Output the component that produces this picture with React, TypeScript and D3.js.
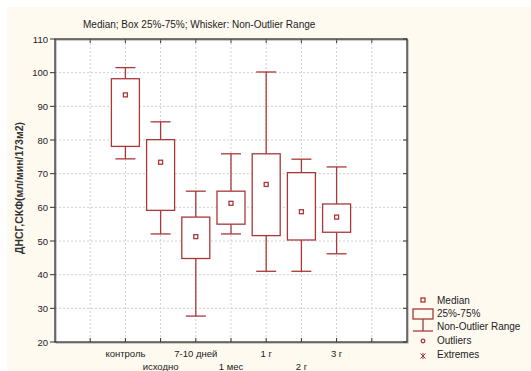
import React from "react";
import * as d3 from "d3";

// categories and box stats
const categories = ["контроль", "исходно", "7-10 дней", "1 мес", "1 г", "2 г", "3 г"];
const whiskerHigh = [101.5, 85.4, 64.8, 75.9, 100.2, 74.3, 72.0];
const q3 = [98.2, 80.1, 57.1, 64.8, 75.9, 70.3, 61.0];
const medians = [93.4, 73.4, 51.3, 61.2, 66.8, 58.7, 57.1];
const q1 = [78.1, 59.1, 44.8, 55.0, 51.6, 50.3, 52.6];
const whiskerLow = [74.4, 52.1, 27.7, 52.1, 41.0, 41.0, 46.2];
const yTickValues = [20, 30, 40, 50, 60, 70, 80, 90, 100, 110];
const legendLabels = ["Median", "25%-75%", "Non-Outlier Range", "Outliers", "Extremes"];

const RED = "#a93838";
const FONT = "'Liberation Sans', Arial, sans-serif";

export default function App() {
  const width = 531, height = 371;
  const left = 55, right = 407, top = 39, bottom = 342;

  // x positions: 0..10 across plot, categories sit at 2..8
  const x = d3.scaleLinear().domain([0, 10]).range([left, right]);
  const y = d3.scaleLinear().domain([20, 110]).range([bottom, top]);

  const boxW = 28, capW = 20;
  const vGrid = d3.range(1, 10);

  return (
    <svg width={width} height={height} style={{ position: "absolute", left: 0, top: 0 }} fontFamily={FONT}>
      <rect x={0} y={0} width={width} height={height} fill="#ffffff" />
      <rect x={7} y={7} width={width - 7} height={height - 7} fill="#fefaf0" />
      <rect x={left} y={top} width={right - left} height={bottom - top} fill="#ffffff" />

      {/* grid */}
      {yTickValues.slice(1, -1).map(v => (
        <line key={"h" + v} x1={left} x2={right} y1={y(v)} y2={y(v)} stroke="#c4c4c4" strokeWidth={0.8} strokeDasharray="2,2" />
      ))}
      {vGrid.map(i => (
        <line key={"v" + i} x1={x(i)} x2={x(i)} y1={top} y2={bottom} stroke="#c4c4c4" strokeWidth={0.8} strokeDasharray="2,2" />
      ))}

      {/* ticks on all sides */}
      {yTickValues.map(v => (
        <g key={"t" + v}>
          <line x1={left - 5} x2={left} y1={y(v)} y2={y(v)} stroke="#333" strokeWidth={1} />
          <line x1={right - 4} x2={right} y1={y(v)} y2={y(v)} stroke="#333" strokeWidth={1} />
          <text x={left - 7} y={y(v) + 3.5} textAnchor="end" fontSize={9.5} fill="#222">{v}</text>
        </g>
      ))}
      {vGrid.map(i => (
        <g key={"xt" + i}>
          <line x1={x(i)} x2={x(i)} y1={bottom - 4} y2={bottom} stroke="#333" strokeWidth={1} />
          <line x1={x(i)} x2={x(i)} y1={top} y2={top + 4} stroke="#333" strokeWidth={1} />
        </g>
      ))}

      {/* frame with a slight shadow */}
      <rect x={left + 1} y={top + 1} width={right - left} height={bottom - top} fill="none" stroke="#9a9a9a" strokeWidth={1} />
      <rect x={left} y={top} width={right - left} height={bottom - top} fill="none" stroke="#333" strokeWidth={1.3} />

      {/* boxes */}
      {categories.map((c, i) => {
        const cx = x(i + 2);
        return (
          <g key={c} stroke={RED} strokeWidth={1.3} fill="none">
            <line x1={cx} x2={cx} y1={y(whiskerHigh[i])} y2={y(q3[i])} />
            <line x1={cx} x2={cx} y1={y(q1[i])} y2={y(whiskerLow[i])} />
            <line x1={cx - capW / 2} x2={cx + capW / 2} y1={y(whiskerHigh[i])} y2={y(whiskerHigh[i])} />
            <line x1={cx - capW / 2} x2={cx + capW / 2} y1={y(whiskerLow[i])} y2={y(whiskerLow[i])} />
            <rect x={cx - boxW / 2} y={y(q3[i])} width={boxW} height={y(q1[i]) - y(q3[i])} fill="#ffffff" />
            <rect x={cx - 2} y={y(medians[i]) - 2} width={4} height={4} />
          </g>
        );
      })}

      {/* x labels, staggered */}
      {categories.map((c, i) => (
        <text key={"xl" + c} x={x(i + 2)} y={i % 2 === 0 ? 357 : 369.5} textAnchor="middle" fontSize={9.5} fill="#222">{c}</text>
      ))}

      {/* title */}
      <text x={83} y={28} fontSize={10} fill="#222">Median; Box 25%-75%; Whisker: Non-Outlier Range</text>

      {/* y axis title */}
      <text transform="translate(23,188) rotate(-90)" textAnchor="middle" fontSize={10.5} fontWeight="bold" fill="#333">
        ДНСГ,СКФ(мл/мин/173м2)
      </text>

      {/* legend */}
      <g stroke={RED} strokeWidth={1.3} fill="none">
        <rect x={421} y={298} width={4} height={4} />
        <rect x={413} y={309} width={20} height={10} />
        <line x1={423} x2={423} y1={319} y2={331} />
        <line x1={413} x2={433} y1={331} y2={331} />
        <circle cx={423} cy={341} r={1.8} />
        <path d="M420.5,353.5 L425.5,358.5 M425.5,353.5 L420.5,358.5 M423,353 L423,359" strokeWidth={1} />
      </g>
      {legendLabels.map((l, i) => (
        <text key={l} x={437} y={[304, 317, 330, 344, 358][i]} fontSize={10} fill="#222">{l}</text>
      ))}
    </svg>
  );
}
